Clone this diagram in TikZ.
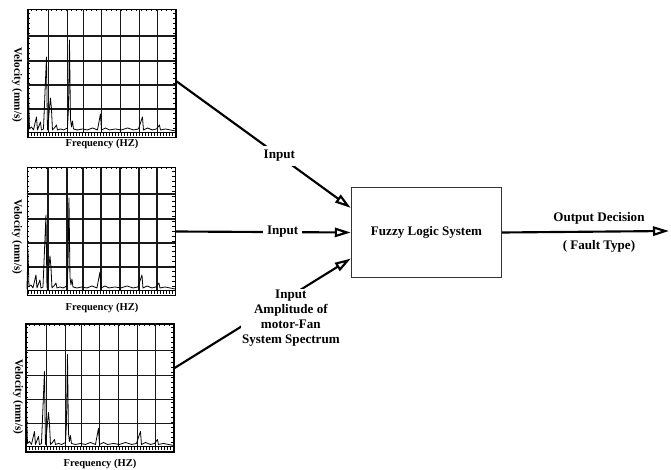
\documentclass[tikz,border=0pt]{standalone}
\usepackage{fontspec}
\setmainfont{Liberation Serif}
\usetikzlibrary{arrows.meta}

% grid, ticks and trace inside one spectrum frame
\newcommand{\spectrumgrid}[1]{%
  \begin{scope}[shift={(#1.north west)}]
    \foreach \gx in {21,56,74,93,112,130} \draw[gridline] (\gx,0) -- (\gx,123);
    \draw[gridline, line width=1.3pt] (40,0) -- (40,123);
    \foreach \gy in {27,76,100} \draw[gridline] (0,\gy) -- (148,\gy);
    \draw[gridline, line width=1.3pt] (0,52) -- (148,52);
    % ticks along the border
    \foreach \tk in {1,4,...,147} \draw[tick] (\tk,123) -- (\tk,127);
    \draw[tick] (0,123) -- (148,123);
    \foreach \tk in {4,9,...,120} {
      \draw[tick] (0,\tk) -- (2.5,\tk);
      \draw[tick] (148,\tk) -- (145.5,\tk);
    }
    \foreach \tk in {4,9,...,144} \draw[tick] (\tk,0) -- (\tk,2.5);
    % spectrum trace
    \draw[trace] plot coordinates {(0,122) (1,82) (2,120) (4,118) (6,121) (9,108) (10,121)
      (13,113) (14,121) (16,120) (19,48) (20,121) (23,89) (24,100) (25,121) (27,119)
      (29,116) (30,121) (33,120) (36,121) (40,119) (41,100) (42,31) (43,110) (44,118)
      (45,112) (46,120) (50,121) (55,120) (60,121) (65,119) (70,121) (73,105) (74,121)
      (78,119) (82,121) (88,120) (94,121) (100,119) (106,121) (111,120) (115,108)
      (116,121) (120,119) (125,121) (129,120) (132,116) (133,121) (138,120) (143,121)
      (148,122)};
  \end{scope}}

\begin{document}
\begin{tikzpicture}[x=0.75pt, y=-0.75pt,
  frame/.style={draw, line width=0.8pt, minimum width=111pt, minimum height=96pt, inner sep=0pt},
  block/.style={draw=black!80, line width=0.6pt, minimum width=113pt, minimum height=67pt, font=\fontsize{9.8}{11.25}\selectfont\bfseries},
  lbl/.style={font=\fontsize{9.8}{11.25}\selectfont\bfseries, fill=white, inner sep=3pt},
  axislbl/.style={font=\fontsize{7.9}{9}\selectfont\bfseries, inner sep=0pt},
  gridline/.style={draw=black!90, line width=0.9pt},
  tick/.style={line width=0.45pt},
  trace/.style={line width=0.6pt, line join=round},
  link/.style={line width=1.6pt, -{Triangle[open, length=12pt, width=7pt]}}]

  \useasboundingbox (0,0) rectangle (671,470);

  % Spectrum frames
  \node[frame] (Spec1) at (102,73.5) {};
  \node[frame] (Spec2) at (101.5,231.5) {};
  \node[frame] (Spec3) at (100,388) {};
  \spectrumgrid{Spec1}
  \spectrumgrid{Spec2}
  \spectrumgrid{Spec3}

  % Axis labels
  \node[axislbl, rotate=-90, font=\fontsize{8.4}{9}\selectfont\bfseries] (Vel1) at (17,85) {Velocity (mm/s)};
  \node[axislbl, rotate=-90, font=\fontsize{8.4}{9}\selectfont\bfseries] (Vel2) at (17,237) {Velocity (mm/s)};
  \node[axislbl, rotate=-90, font=\fontsize{8.4}{9}\selectfont\bfseries] (Vel3) at (18,397) {Velocity (mm/s)};
  \node[axislbl] (Freq1) at (102,144) {Frequency (HZ)};
  \node[axislbl] (Freq2) at (102,308) {Frequency (HZ)};
  \node[axislbl] (Freq3) at (100,464) {Frequency (HZ)};

  % Fuzzy block and output end
  \node[block] (Fuzzy) at (426.5,232.5) {Fuzzy Logic System};
  \coordinate (Out) at (669,231);

  % Inputs
  \draw[link] (Spec1.-6) -- node[lbl, pos=0.59] {Input} (Fuzzy.162);
  \draw[link] (Spec2.east) -- node[lbl, pos=0.61] {Input} (Fuzzy.west);
  \draw[link] (Spec3.15) -- node[lbl, pos=0.66, anchor=north, yshift=6pt, align=center, inner sep=1pt]
    {Input\\Amplitude of\\motor-Fan\\System Spectrum} (Fuzzy.199);

  % Output
  \draw[link] (Fuzzy.east) -- node[lbl, fill=none, pos=0.58, above=5pt, inner sep=0pt] {Output Decision}
    node[lbl, fill=none, pos=0.58, below=6pt, inner sep=0pt] {( Fault Type)} (Out);

\end{tikzpicture}
\end{document}
